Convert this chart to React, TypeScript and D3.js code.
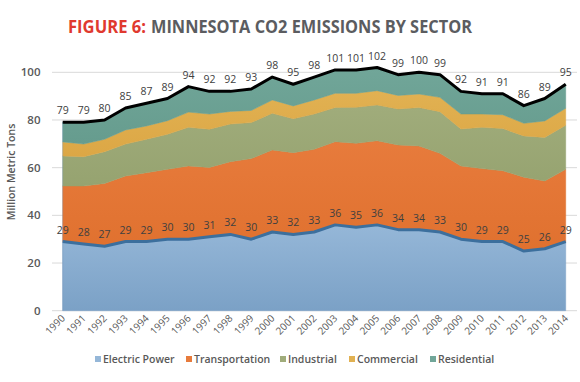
import React from "react";
import * as d3 from "d3";

const years = [1990,1991,1992,1993,1994,1995,1996,1997,1998,1999,2000,2001,2002,2003,2004,2005,2006,2007,2008,2009,2010,2011,2012,2013,2014];
const electricPower = [29,28,27,29,29,30,30,31,32,30,33,32,33,36,35,36,34,34,33,30,29,29,25,26,29];
const transportation = [23.3,24.3,26.4,27.5,28.9,29.3,30.7,29.1,30.5,33.8,34.4,34.3,34.7,34.9,35.2,35.3,35.5,35.1,33,30.7,30.6,29.7,31,28.4,30.3];
const industrial = [12.6,12.3,13.3,13.4,14,14.7,16.2,16,15.8,15.1,15.4,14.2,14.8,14.3,15.1,15,15.1,16.1,17.5,15.5,17.3,17.7,17.3,18.3,18.5];
const commercial = [5.9,5.3,5.2,5.9,5.6,5.7,6.4,6.4,5.3,5.1,5.6,5.4,5.9,6,5.9,6,5.7,5.7,6,6.3,5.6,5.8,5.3,6.9,7.1];
const residential = [8.2,9.1,8.1,9.2,9.5,9.3,10.7,9.5,8.4,9,9.6,9.1,9.6,9.8,9.8,9.7,8.7,9.1,9.5,9.5,8.5,8.8,7.4,9.4,10.1];
const yTicks = [0,20,40,60,80,100];
const seriesNames = ["Electric Power","Transportation","Industrial","Commercial","Residential"];
const seriesColors = ["#95b7d8","#e77b3c","#a0ac7b","#e1b152","#71a699"];
const seriesColorsDark = ["#7ba1c6","#e0712f","#96a370","#dca745","#669c8e"];
const legendX = [95,186,280,349,430];

export default function App() {
  const W = 580, H = 382;
  const x = d3.scalePoint<number>().domain(years).range([52.2, 576.2]).padding(0.5);
  const y = d3.scaleLinear().domain([0, 100]).range([310.7, 72.3]);
  const rows = years.map((yr, i) => ({
    year: yr,
    s0: electricPower[i], s1: transportation[i], s2: industrial[i], s3: commercial[i], s4: residential[i],
  }));
  const stack = d3.stack<any>().keys(["s0","s1","s2","s3","s4"]);
  const layers = stack(rows);
  const area = d3.area<any>().x((d: any) => x(d.data.year)!).y0((d: any) => y(d[0])).y1((d: any) => y(d[1]));
  const topLine = d3.line<any>().x((d: any) => x(d.data.year)!).y((d: any) => y(d[1]));
  const totals = rows.map((r) => r.s0 + r.s1 + r.s2 + r.s3 + r.s4);
  const font = "'Open Sans', 'DejaVu Sans', sans-serif";
  const x0 = x(years[0])!;

  return (
    <svg width={W} height={H} style={{ display: "block", position: "absolute", left: 0, top: 0 }} fontFamily={font}>
      <defs>
        {seriesColors.map((c, i) => (
          <linearGradient key={i} id={`g${i}`} x1="0" y1="0" x2="0" y2="1">
            <stop offset="0" stopColor={c} />
            <stop offset="1" stopColor={seriesColorsDark[i]} />
          </linearGradient>
        ))}
      </defs>
      <rect width={W} height={H} fill="#ffffff" />
      <text x={68} y={33} fontSize={18.5} fontWeight={700} textLength={78} lengthAdjust="spacingAndGlyphs" fill="#e0392f">FIGURE 6:</text>
      <text x={151} y={33} fontSize={18.5} fontWeight={700} textLength={321} lengthAdjust="spacingAndGlyphs" fill="#5b5c60">MINNESOTA CO2 EMISSIONS BY SECTOR</text>
      {yTicks.map((t) => (
        <g key={t}>
          <line x1={52} x2={577} y1={y(t)} y2={y(t)} stroke="#d9d9d9" strokeWidth={1} />
          <text x={40.5} y={y(t) + 4} textAnchor="end" fontSize={11.5} fontWeight={600} fill="#595959">{t}</text>
        </g>
      ))}
      <text transform={`translate(15,172) rotate(-90)`} textAnchor="middle" fontSize={10.5} fontWeight={600} fill="#595959">Million Metric Tons</text>
      {layers.map((L, i) => (
        <path key={i} d={area(L as any)!} fill={`url(#g${i})`} stroke={seriesColorsDark[i]} strokeOpacity={0.6} strokeWidth={0.8} />
      ))}
      <path d={topLine(layers[0] as any)!} fill="none" stroke="#3c6f9d" strokeWidth={3} strokeLinejoin="round" />
      <path d={topLine(layers[4] as any)!} fill="none" stroke="#000000" strokeWidth={3} strokeLinejoin="round" />
      <line x1={x0} x2={x0} y1={y(0)} y2={y(totals[0])} stroke="#7a9cbf" strokeOpacity={0.4} />
      {years.map((yr, i) => (
        <g key={yr}>
          <text x={x(yr)} y={y(totals[i]) - 8} textAnchor="middle" fontSize={10.5} fill="#404040">{Math.round(totals[i])}</text>
          <text x={x(yr)} y={y(electricPower[i]) - 8} textAnchor="middle" fontSize={10.5} fill="#404040">{Math.round(electricPower[i])}</text>
          <text transform={`translate(${x(yr)! + 3},${319}) rotate(-45)`} textAnchor="end" fontSize={10} fill="#595959">{yr}</text>
        </g>
      ))}
      {seriesNames.map((n, i) => (
        <g key={n}>
          <rect x={legendX[i]} y={356} width={6} height={6} fill={seriesColors[i]} />
          <text x={legendX[i] + 8} y={362.5} fontSize={10.5} fontWeight={600} fill="#595959">{n}</text>
        </g>
      ))}
    </svg>
  );
}
